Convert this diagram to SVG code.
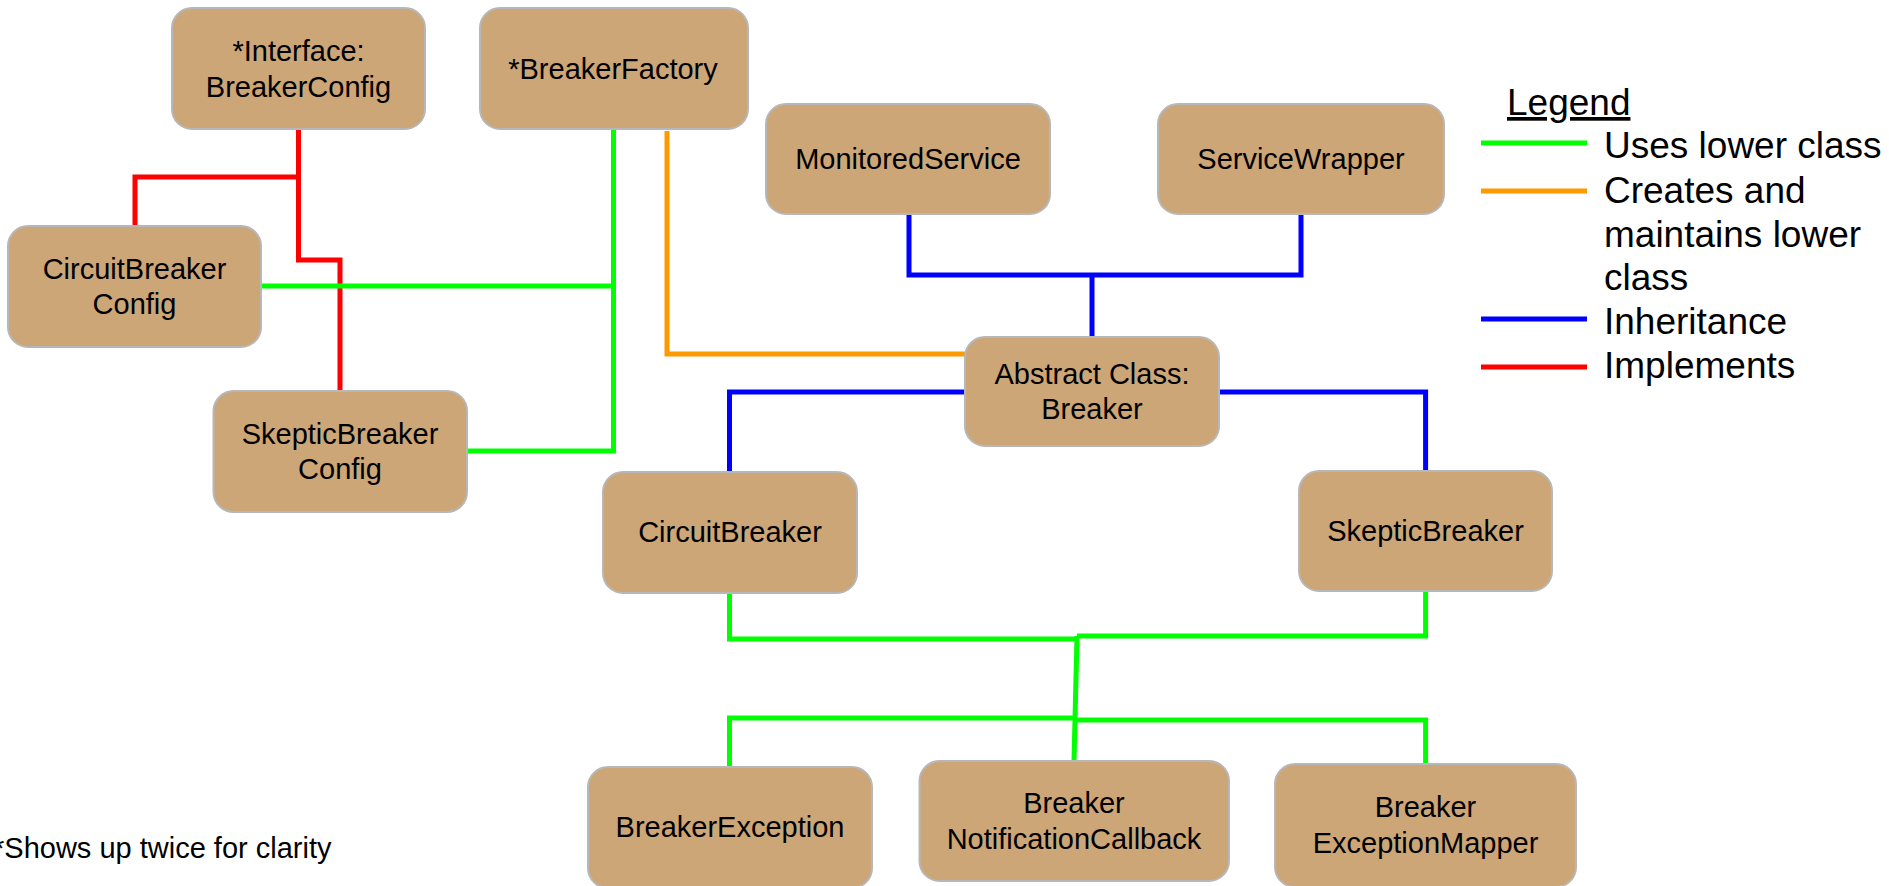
<svg xmlns="http://www.w3.org/2000/svg" width="1889" height="886" viewBox="0 0 1889 886">
<style>
.node rect{fill:#cca677;stroke:#b7b7b7;stroke-width:2}
.node text,.lbl{font-family:"Liberation Sans",Arial,sans-serif;font-size:29px;fill:#000;text-anchor:middle}
.leg{font-family:"Liberation Sans",Arial,sans-serif;font-size:37px;fill:#000}
.c{fill:none;stroke-width:5;stroke-linejoin:miter;stroke-linecap:butt}
.g{stroke:#00ff00}.o{stroke:#ff9900}.b{stroke:#0000ff}.r{stroke:#ff0000}
</style>
<rect width="1889" height="886" fill="#fff"/>
<g id="connectors">
<path class="c r" d="M298.5,129 V260 H340 V391"/>
<path class="c r" d="M298.5,177 H135 V226"/>
<path class="c g" d="M613.5,129 V451 H467"/>
<path class="c g" d="M261,286 H613.5"/>
<path class="c o" d="M667,131 V354 H966"/>
<path class="c b" d="M909,214 V275 H1301 V214"/>
<path class="c b" d="M1092,275 V337"/>
<path class="c b" d="M965,392 H729.5 V472"/>
<path class="c b" d="M1219,392 H1425.6 V471"/>
<path class="c g" d="M729.5,593 V639 H1077"/>
<path class="c g" d="M1077,636 H1425.6 V591"/>
<path class="c g" d="M1077,636 L1074,761"/>
<path class="c g" d="M729.5,767 V718 H1077"/>
<path class="c g" d="M1077,720 H1425.6 V764"/>
</g>
<g id="n-breakerconfig" class="node"><rect x="172" y="8" width="253" height="121" rx="20"/><text x="298.5" y="61">*Interface:</text><text x="298.5" y="97">BreakerConfig</text></g>
<g id="n-breakerfactory" class="node"><rect x="480" y="8" width="268" height="121" rx="20"/><text x="613" y="79">*BreakerFactory</text></g>
<g id="n-monitoredservice" class="node"><rect x="766" y="104" width="284" height="110" rx="20"/><text x="908" y="169">MonitoredService</text></g>
<g id="n-servicewrapper" class="node"><rect x="1158" y="104" width="286" height="110" rx="20"/><text x="1301" y="169">ServiceWrapper</text></g>
<g id="n-circuitbreakerconfig" class="node"><rect x="8" y="226" width="253" height="121" rx="20"/><text x="134.5" y="279">CircuitBreaker</text><text x="134.5" y="314">Config</text></g>
<g id="n-skepticbreakerconfig" class="node"><rect x="213.5" y="391" width="253.5" height="121" rx="20"/><text x="340" y="444">SkepticBreaker</text><text x="340" y="479">Config</text></g>
<g id="n-breaker" class="node"><rect x="965" y="337" width="254" height="109" rx="20"/><text x="1092" y="384">Abstract Class:</text><text x="1092" y="419">Breaker</text></g>
<g id="n-circuitbreaker" class="node"><rect x="603" y="472" width="254" height="121" rx="20"/><text x="730" y="542">CircuitBreaker</text></g>
<g id="n-skepticbreaker" class="node"><rect x="1299" y="471" width="253" height="120" rx="20"/><text x="1425.5" y="541">SkepticBreaker</text></g>
<g id="n-breakerexception" class="node"><rect x="588" y="767" width="284" height="121" rx="20"/><text x="730" y="837">BreakerException</text></g>
<g id="n-notificationcallback" class="node"><rect x="919.5" y="761" width="309.5" height="120" rx="20"/><text x="1074" y="813">Breaker</text><text x="1074" y="849">NotificationCallback</text></g>
<g id="n-exceptionmapper" class="node"><rect x="1275" y="764" width="301" height="123" rx="20"/><text x="1425.5" y="817">Breaker</text><text x="1425.5" y="853">ExceptionMapper</text></g>
<g id="legend">
<text class="leg" x="1507" y="115" text-decoration="underline">Legend</text>
<line class="c g" x1="1481" y1="143" x2="1587" y2="143"/>
<line class="c o" x1="1481" y1="191" x2="1587" y2="191"/>
<line class="c b" x1="1481" y1="319" x2="1587" y2="319"/>
<line class="c r" x1="1481" y1="367" x2="1587" y2="367"/>
<text class="leg" x="1604" y="158">Uses lower class</text>
<text class="leg" x="1604" y="203">Creates and</text>
<text class="leg" x="1604" y="247">maintains lower</text>
<text class="leg" x="1604" y="290">class</text>
<text class="leg" x="1604" y="334">Inheritance</text>
<text class="leg" x="1604" y="378">Implements</text>
</g>
<text class="lbl" x="-7" y="858" style="text-anchor:start">*Shows up twice for clarity</text>
</svg>
